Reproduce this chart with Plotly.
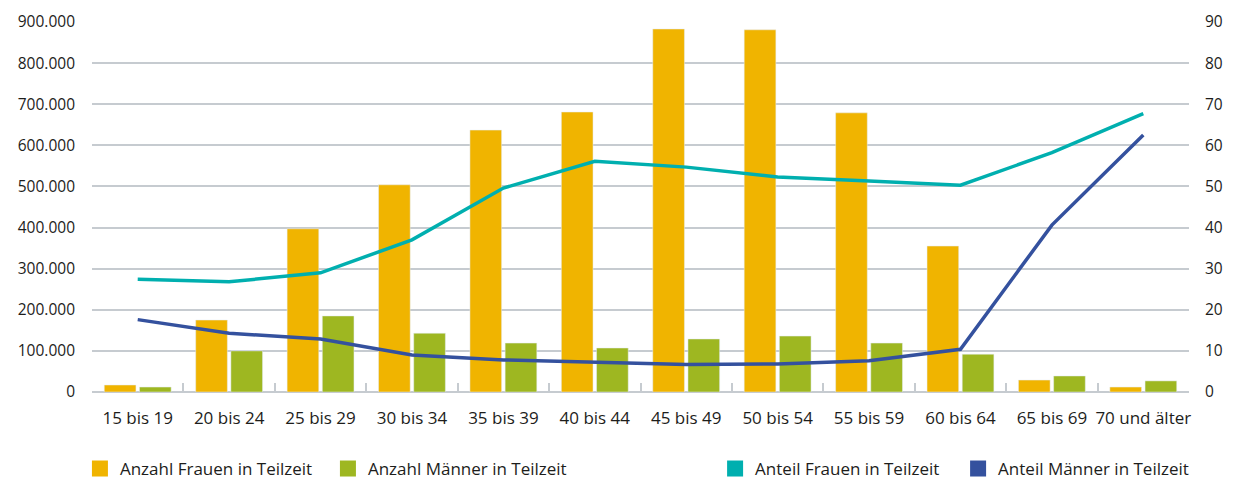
import plotly.graph_objects as go

categories = ["15 bis 19", "20 bis 24", "25 bis 29", "30 bis 34", "35 bis 39", "40 bis 44",
              "45 bis 49", "50 bis 54", "55 bis 59", "60 bis 64", "65 bis 69", "70 und älter"]
anzahl_frauen = [17000, 175000, 397000, 504000, 637000, 681000, 883000, 881000, 679000, 355000, 29000, 12000]
anzahl_maenner = [12000, 100000, 185000, 143000, 119000, 107000, 129000, 136000, 119000, 92000, 39000, 27000]
anteil_frauen = [27.4, 26.8, 29.0, 37.0, 49.6, 56.1, 54.7, 52.3, 51.3, 50.3, 58.2, 67.7]
anteil_maenner = [17.6, 14.3, 12.9, 9.0, 7.8, 7.2, 6.7, 6.8, 7.6, 10.4, 40.6, 62.5]

C_OR = "#F0B400"
C_GR = "#9EB721"
C_TE = "#00AFAF"
C_BL = "#34519E"
FONT = "Open Sans"
TXT = "#1d1d1b"
GRID = "#C6CBD0"

fig = go.Figure()
fig.add_trace(go.Bar(x=categories, y=anzahl_frauen, name="Anzahl Frauen in Teilzeit",
                     marker_color=C_OR, showlegend=False))
fig.add_trace(go.Bar(x=categories, y=anzahl_maenner, name="Anzahl Männer in Teilzeit",
                     marker_color=C_GR, showlegend=False))
fig.add_trace(go.Scatter(x=categories, y=anteil_frauen, mode="lines", yaxis="y2",
                         name="Anteil Frauen in Teilzeit",
                         line=dict(color=C_TE, width=3.5), showlegend=False))
fig.add_trace(go.Scatter(x=categories, y=anteil_maenner, mode="lines", yaxis="y2",
                         name="Anteil Männer in Teilzeit",
                         line=dict(color=C_BL, width=3.5), showlegend=False))
# legend entries with square symbols
legend_items = [("Anzahl Frauen in Teilzeit", C_OR, "legend"),
                ("Anzahl Männer in Teilzeit", C_GR, "legend"),
                ("Anteil Frauen in Teilzeit", C_TE, "legend2"),
                ("Anteil Männer in Teilzeit", C_BL, "legend2")]
for name, col, lg in legend_items:
    fig.add_trace(go.Scatter(x=[None], y=[None], mode="markers", name=name, yaxis="y2",
                             marker=dict(symbol="square", size=16, color=col), legend=lg))

fig.update_layout(
    width=1225, height=473,
    margin=dict(l=84, r=44, t=14, b=89, autoexpand=False),
    plot_bgcolor="white", paper_bgcolor="white",
    font=dict(family=FONT, size=15, color=TXT),
    separators=",.",
    barmode="group", bargap=0.23, bargroupgap=0.1,
    xaxis=dict(type="category", tickson="boundaries", ticks="inside", ticklen=9,
               tickcolor=GRID, tickwidth=2, showgrid=False, showline=False,
               tickfont=dict(size=17), ticklabelstandoff=14, tickangle=0, automargin=False),
    yaxis=dict(range=[0, 900000], dtick=100000, tickformat=",d", gridcolor=GRID,
               gridwidth=2, zeroline=True, zerolinecolor=GRID, zerolinewidth=2,
               ticklabelstandoff=16, showline=False, automargin=False,
               tickfont=dict(size=15.5)),
    yaxis2=dict(range=[0, 90], dtick=10, overlaying="y", side="right", showgrid=False,
                zeroline=False, ticklabelstandoff=15, showline=False, automargin=False,
                tickfont=dict(size=15.5)),
    legend=dict(orientation="h", x=-0.011, xanchor="left", y=-0.208, yanchor="middle",
                entrywidth=203, entrywidthmode="pixels",
                font=dict(size=17), itemwidth=30, borderwidth=0),
    legend2=dict(orientation="h", x=0.568, xanchor="left", y=-0.208, yanchor="middle",
                 entrywidth=198, entrywidthmode="pixels", font=dict(size=17),
                 itemwidth=30, borderwidth=0),
)

fig.write_html("out.html")
